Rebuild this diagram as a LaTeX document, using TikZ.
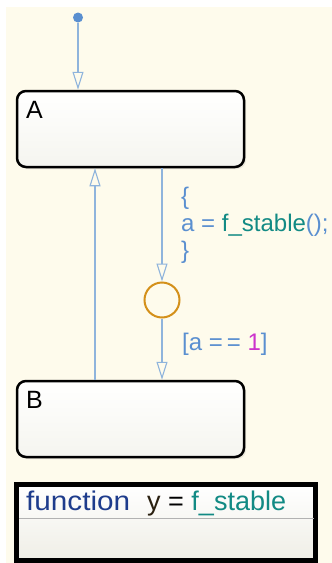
\documentclass[tikz,border=0pt]{standalone}
\usepackage{fontspec}
\setmainfont{Liberation Sans}
\newfontfamily\fnfont[FakeStretch=1.1]{Liberation Sans}
\usetikzlibrary{arrows.meta,shadows}
\definecolor{bg}{HTML}{FEFBEC}
\definecolor{trline}{HTML}{8FB4DC}
\definecolor{dotblue}{HTML}{5A8FD0}
\definecolor{lblblue}{HTML}{5A8FD0}
\definecolor{teal}{HTML}{128A84}
\definecolor{magen}{HTML}{CC33CC}
\definecolor{junc}{HTML}{D4901A}
\definecolor{fnblue}{HTML}{1E3C8C}
\definecolor{ydark}{HTML}{2A2010}
\definecolor{stbot}{HTML}{F5F5EF}
\definecolor{fnbot}{HTML}{EFEEE6}
\begin{document}
\begin{tikzpicture}[x=1pt,y=-1pt,
  state/.style={draw=black, line width=2.5pt, rounded corners=9pt,
    top color=white, bottom color=stbot,
    drop shadow={opacity=0.15, shadow xshift=2pt, shadow yshift=-2pt},
    minimum width=227pt, minimum height=76pt, inner sep=0pt},
  tr/.style={draw=trline, line width=1.1pt,
    -{Triangle[length=18pt, width=11pt, fill=bg, line width=1.1pt]}},
  lbl/.style={anchor=base west, inner sep=0pt, font=\fontsize{24}{27}\selectfont},
  slbl/.style={anchor=base west, inner sep=0pt, font=\fontsize{25}{28}\selectfont},
]
\useasboundingbox (0,0) rectangle (332,563);
\fill[white] (0,0) rectangle (332,563);
\fill[bg] (6,7) rectangle (332,563);

% states
\node[state] (A) at (130.5,129) {};
\node[slbl] (Alab) at (26,118) {A};
\node[state] (B) at (130.5,419) {};
\node[slbl] (Blab) at (26,408) {B};

% junction
\node[circle, draw=junc, line width=2pt, minimum size=35pt, inner sep=0pt] (J) at (162,300) {};

% default transition
\node[circle, fill=dotblue, minimum size=10pt, inner sep=0pt] (D) at (78,17.5) {};
\draw[tr] (D) -- (A.north -| D);

% transitions
\coordinate (r) at (95,0);
\draw[tr] (A.south -| J) -- (J.north);
\draw[tr] (J.south) -- (B.north -| J);
\draw[tr] (B.north -| r) -- (A.south -| r);

% labels
\node[lbl, text=lblblue] (l1) at (181,204) {\{};
\node[lbl, text=lblblue] (l2) at (181,231) {a = \textcolor{teal}{f\_stable}();};
\node[lbl, text=lblblue] (l3) at (181,258) {\}};
\node[lbl, text=lblblue] (g1) at (182,350) {[a =\,= \textcolor{magen}{1}]};

% function box
\node[draw=black, line width=5pt, minimum width=299pt, minimum height=76pt,
  top color=white, bottom color=fnbot, inner sep=0pt] (F) at (166,522.5) {};
\draw[black!30, line width=0.8pt] (19,518) -- (314,518);
\node[anchor=base west, inner sep=0pt, font=\fontsize{27}{30}\selectfont] (Ft) at (26,510)
  {\textcolor{fnblue}{\fnfont function}\hspace{17pt}\textcolor{ydark}{y} = \textcolor{teal}{f\_stable}};
\end{tikzpicture}
\end{document}
